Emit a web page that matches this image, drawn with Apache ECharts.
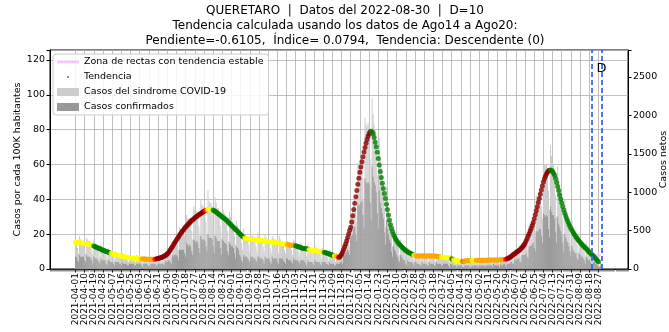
<!DOCTYPE html>
<html><head><meta charset="utf-8">
<script src="https://cdn.jsdelivr.net/npm/echarts@6/dist/echarts.min.js"></script>
<style>html,body{margin:0;padding:0;background:#fff}#c{width:669px;height:332px}</style>
</head><body><div id="c"></div>
<script>
// ---- DATA ----
const startDate = [2021, 3, 1];          // 2021-04-01 (day 0)
const axisFirstDay = -25;                // first category (days from start)
const axisLastDay = 542;                 // last category
const labelStepDays = 9;                 // x tick labels every 9 days
const markerDates = ['2022-08-20', '2022-08-30'];
const markerLabel = 'D';

// Trend (7-day smoothed), per 100K, daily from 2021-04-01
const trendValues = [
15.3,15.3,15.2,15.2,15.1,15.0,14.9,14.9,14.8,14.7,
14.6,14.5,14.4,14.2,14.1,13.9,13.7,13.4,13.2,12.9,
12.6,12.4,12.1,11.9,11.6,11.3,11.1,10.8,10.6,10.3,
10.1,9.9,9.6,9.4,9.2,9.0,8.8,8.6,8.5,8.3,
8.2,8.0,7.9,7.7,7.6,7.4,7.3,7.2,7.1,6.9,
6.8,6.7,6.6,6.5,6.4,6.3,6.3,6.2,6.1,6.1,
6.0,6.0,5.9,5.9,5.8,5.8,5.7,5.7,5.7,5.7,
5.6,5.6,5.6,5.6,5.6,5.6,5.6,5.6,5.6,5.7,
5.9,6.0,6.2,6.4,6.6,6.8,7.1,7.4,7.7,8.0,
8.6,9.3,10.1,11.0,11.9,12.8,13.8,14.8,15.7,16.6,
17.5,18.4,19.3,20.2,21.0,21.8,22.6,23.4,24.1,24.7,
25.4,26.0,26.6,27.2,27.8,28.3,28.8,29.3,29.8,30.2,
30.7,31.1,31.5,31.9,32.3,32.7,33.1,33.4,33.7,33.9,
34.1,34.2,34.2,34.1,34.0,33.8,33.5,33.1,32.7,32.2,
31.8,31.3,30.8,30.4,29.9,29.4,29.0,28.5,28.1,27.5,
26.9,26.3,25.7,25.1,24.5,23.9,23.3,22.7,22.2,21.6,
21.0,20.4,19.8,19.2,18.7,18.2,17.8,17.6,17.4,17.3,
17.2,17.1,17.0,16.9,16.9,16.8,16.8,16.7,16.7,16.6,
16.6,16.5,16.4,16.3,16.2,16.1,16.0,15.9,15.9,15.8,
15.7,15.6,15.5,15.4,15.4,15.3,15.2,15.1,15.0,14.9,
14.8,14.7,14.6,14.5,14.4,14.3,14.2,14.1,14.0,13.9,
13.8,13.7,13.7,13.6,13.6,13.5,13.3,13.1,12.9,12.7,
12.5,12.3,12.1,11.9,11.8,11.7,11.6,11.5,11.3,11.1,
11.0,10.9,10.8,10.7,10.6,10.5,10.4,10.4,10.3,10.2,
10.1,10.0,9.9,9.8,9.6,9.4,9.2,9.0,8.8,8.6,
8.4,8.2,8.0,7.8,7.6,7.4,7.2,7.0,6.8,6.7,
7.4,8.5,9.8,11.2,12.8,14.4,16.2,18.1,20.1,22.2,
24.0,27.0,30.6,34.2,37.8,41.4,45.0,48.6,52.1,55.5,
58.6,61.6,64.5,67.2,69.8,72.2,74.4,76.2,77.7,78.8,
79.1,78.7,77.7,75.5,72.8,70.2,67.0,63.4,59.7,56.0,
52.5,49.2,46.2,43.4,40.4,37.2,34.1,31.0,28.0,25.4,
23.2,21.4,19.8,18.5,17.4,16.4,15.5,14.7,14.0,13.4,
12.8,12.2,11.6,11.1,10.6,10.2,9.8,9.5,9.2,8.9,
8.6,8.2,7.9,7.7,7.6,7.5,7.5,7.5,7.5,7.5,
7.5,7.5,7.5,7.5,7.5,7.5,7.5,7.5,7.5,7.5,
7.5,7.4,7.4,7.4,7.3,7.3,7.2,7.1,7.0,6.9,
6.8,6.7,6.7,6.6,6.5,6.4,6.3,6.2,6.0,5.9,
5.6,5.3,5.1,4.9,4.8,4.7,4.6,4.5,4.5,4.4,
4.4,4.5,4.6,4.7,4.8,4.8,4.8,4.8,4.8,4.9,
4.9,4.9,4.9,5.0,5.0,5.0,5.0,5.0,5.0,5.0,
5.0,5.0,5.0,5.0,5.0,5.1,5.1,5.1,5.1,5.1,
5.1,5.1,5.1,5.2,5.2,5.2,5.2,5.2,5.3,5.3,
5.4,5.5,5.6,5.8,6.0,6.3,6.6,7.0,7.4,8.0,
8.4,8.8,9.3,9.7,10.2,10.6,11.1,11.7,12.3,13.0,
13.8,14.8,16.0,17.4,18.9,20.3,21.8,23.3,24.9,26.7,
28.8,31.1,33.4,35.7,38.1,40.5,42.9,45.3,47.7,49.9,
51.8,53.3,54.5,55.5,56.2,56.7,56.8,56.5,55.9,55.0,
53.8,52.0,49.7,47.3,45.0,42.5,40.2,38.0,35.9,33.9,
32.0,30.3,28.7,27.2,25.8,24.5,23.3,22.2,21.2,20.2,
19.3,18.4,17.6,16.8,16.1,15.4,14.7,14.0,13.4,12.8,
12.2,11.6,11.0,10.4,9.8,9.2,8.6,8.0,7.4,6.8,
6.1,5.4,4.8,4.2
];

// Trend classification: [start day, class]  Y=estable, G=descendente, O, R, D=ascendente
const trendSegments = [
[0,'Y'],[18,'G'],[35,'Y'],[65,'O'],[78,'R'],[80,'D'],[127,'R'],[129,'O'],[130,'Y'],[135,'G'],
[166,'Y'],[208,'O'],[216,'G'],[229,'Y'],[244,'G'],[254,'Y'],[256,'O'],[258,'R'],[259,'D'],[290,'G'],
[332,'Y'],[334,'O'],[359,'Y'],[369,'G'],[371,'Y'],[380,'R'],[381,'O'],[389,'Y'],[393,'O'],[422,'R'],
[424,'D'],[466,'G']
];

// Casos del sindrome COVID-19 (per 100K), daily from 2021-04-01
const sindromeValues = [
17,16,12,9,19,17,16, 16,16,12,9,18,17,16, 16,15,11,8,17,15,14, 14,13,10,7,14,13,12,
12,11,8,6,12,11,10, 10,9,7,5,10,9,9, 9,8,6,4,9,8,8, 8,7,5,4,8,7,7,
7,7,5,4,8,7,6, 6,6,5,3,7,7,6, 6,6,4,3,7,6,6, 6,6,5,4,8,7,7,
7,7,6,4,10,9,9, 10,11,9,7,16,16,16, 17,17,14,11,24,23,23, 24,24,19,14,31,29,29,
29,29,22,17,36,34,33, 33,32,25,19,40,37,36, 36,35,27,20,45,39,38, 38,36,27,20,41,38,35,
35,33,25,18,37,34,32, 31,30,22,16,33,30,28, 27,25,19,14,28,25,23, 22,21,15,11,23,20,19,
19,18,14,10,21,19,19, 18,18,13,10,21,19,18, 18,17,13,10,20,18,17, 17,16,12,9,19,18,17,
17,16,12,9,19,17,16, 16,15,11,9,18,16,15, 15,14,11,8,17,16,15, 14,14,10,8,15,14,13,
13,12,9,7,14,13,12, 12,11,9,6,13,12,11, 11,11,8,6,12,11,11, 10,10,7,5,11,10,9,
9,8,6,4,9,8,7, 7,8,7,6,14,15,16, 18,19,16,13,30,31,34, 38,40,33,27,61,60,61,
64,65,52,40,87,83,82, 84,82,63,47,98,89,83, 80,74,54,38,75,64,58, 54,49,35,24,47,39,34,
31,27,19,13,25,21,19, 18,16,12,8,17,15,13, 13,12,8,6,12,11,10, 10,9,7,5,10,9,8,
8,8,6,5,9,9,8, 8,8,6,4,9,9,8, 8,8,6,4,9,8,8, 8,7,6,4,8,8,7,
7,7,5,4,8,7,6, 6,5,4,3,6,5,5, 5,5,4,3,6,5,5, 5,5,4,3,6,6,5,
5,5,4,3,6,6,6, 6,5,4,3,6,6,6, 6,5,4,3,6,6,6, 6,5,4,3,7,6,6,
6,6,4,3,8,7,7, 8,8,6,5,11,11,11, 11,11,9,7,15,15,15, 16,17,14,11,25,25,26,
27,28,23,19,42,41,42, 45,45,36,29,62,60,59, 60,58,45,34,71,65,61, 60,56,42,30,59,52,47,
44,40,29,20,40,35,32, 30,27,20,14,28,24,22, 21,19,14,10,20,18,16, 15,14,10,7,15,13,11,
11,10,7,5,9,8,7, 6,5,3,2,4,3
];

// Casos confirmados (per 100K), daily from 2021-04-01
const confirmadosValues = [
7,7,5,4,8,7,7, 7,7,5,4,8,7,7, 7,6,5,3,7,6,6, 6,5,4,3,6,5,5,
5,5,3,2,5,5,4, 4,4,3,2,4,4,4, 4,3,3,2,4,3,3, 3,3,2,2,3,3,3,
3,3,2,2,3,3,3, 3,3,2,1,3,3,3, 3,2,2,1,3,3,3, 3,3,2,2,3,3,3,
3,3,3,2,5,4,4, 5,5,4,3,8,7,8, 8,8,7,5,11,11,11, 11,11,9,7,15,14,13,
14,13,10,8,17,16,15, 16,15,12,9,19,17,17, 17,16,13,10,20,18,18, 18,17,13,9,19,18,16,
16,16,12,8,17,16,15, 15,14,10,8,15,14,13, 13,12,9,6,13,12,11, 8,7,5,4,8,7,7,
7,6,5,4,7,7,7, 6,6,5,4,7,7,6, 6,6,5,3,7,6,6, 6,6,4,3,7,6,6,
6,6,4,3,6,6,6, 6,5,4,3,6,6,5, 5,5,4,3,6,5,5, 5,5,4,3,5,5,5,
5,4,3,2,5,4,4, 4,4,3,2,5,4,4, 4,4,3,2,4,4,4, 4,3,3,2,4,3,3,
3,3,2,2,3,3,3, 3,4,4,3,8,8,9, 10,11,10,8,18,19,20, 23,24,20,16,37,36,37,
38,39,31,24,52,50,49, 50,49,38,28,59,53,50, 48,44,32,23,45,38,35, 32,29,21,14,28,23,20,
17,15,10,7,13,11,10, 8,7,5,4,8,7,6, 5,5,3,2,5,4,4, 4,4,3,2,4,4,3,
3,3,2,2,4,3,3, 3,3,2,2,4,3,3, 3,3,2,2,4,3,3, 3,3,2,2,3,3,3,
3,3,2,1,3,3,2, 2,2,2,1,2,2,2, 2,2,1,1,2,2,2, 2,2,1,1,2,2,2,
2,2,2,1,2,2,2, 2,2,2,1,2,2,2, 2,2,2,1,3,2,2, 2,2,2,1,3,2,2,
3,3,2,1,3,3,3, 4,4,3,3,6,5,5, 6,6,4,4,8,8,8, 8,9,7,6,13,13,13,
14,15,12,10,22,21,22, 23,23,19,15,32,31,30, 31,30,23,18,36,33,31, 31,29,21,15,30,26,24,
22,20,15,10,20,18,16, 15,13,10,7,13,11,10, 9,9,6,5,9,8,7, 7,6,5,3,7,6,5,
5,4,3,2,4,4,3, 3,2,1,1,2,1
];

// Zona de rectas con tendencia estable (short segment at the end)
const estableDates = ['2022-08-22', '2022-08-29'];
const estableValues = [8.0, 7.7];

const leftAxisMax = 125.7, leftTickStep = 20;
const rightAxisMax = 2852, rightTickStep = 500;

// ---- BUILD ----
function fmtDate(d) {
  const t = Date.UTC(startDate[0], startDate[1], startDate[2]) + d * 86400000;
  return new Date(t).toISOString().slice(0, 10);
}
const categories = [];
for (let d = axisFirstDay; d <= axisLastDay; d++) categories.push(fmtDate(d));
const dayOf = i => i + axisFirstDay;
const valAt = (arr, i) => { const d = dayOf(i); return (d >= 0 && d < arr.length) ? arr[d] : '-'; };

const sindromeData = categories.map((c, i) => valAt(sindromeValues, i));
const confirmadosData = categories.map((c, i) => valAt(confirmadosValues, i));
const trendData = categories.map((c, i) => valAt(trendValues, i));
const estableData = estableDates.map((d, k) => [d, estableValues[k]]);

const classColor = { Y: '#ffff00', G: '#008000', O: '#ffa500', R: '#ff0000', D: '#8b0000' };
function trendColor(day) {
  let cls = 'Y';
  for (const [s, c] of trendSegments) { if (day >= s) cls = c; }
  return classColor[cls];
}
const isLabelIdx = i => { const d = dayOf(i); return d >= 0 && d % labelStepDays === 0 && d <= 516; };

const FONT = 'DejaVu Sans';
const chart = echarts.init(document.getElementById('c'), null, { renderer: 'canvas' });
chart.setOption({
  animation: false,
  backgroundColor: '#fff',
  title: {
    text: 'QUERETARO  |  Datos del 2022-08-30  |  D=10\nTendencia calculada usando los datos de Ago14 a Ago20:\nPendiente=-0.6105,  Índice= 0.0794,  Tendencia: Descendente (0)',
    left: 345, top: 3, padding: 0, textAlign: 'center',
    textStyle: { fontFamily: FONT, fontSize: 12, fontWeight: 'normal', color: '#000', lineHeight: 15 }
  },
  grid: { left: 50, right: 41, top: 50, bottom: 63, show: true, borderColor: '#000', borderWidth: 1,
    backgroundColor: 'transparent', containLabel: false, outerBoundsMode: 'none' },
  legend: {
    orient: 'vertical', left: 53, top: 54,
    backgroundColor: 'rgba(255,255,255,0.85)', borderColor: '#cccccc', borderWidth: 1, borderRadius: 3,
    padding: [3, 5, 3, 4], itemGap: 5, itemWidth: 22, itemHeight: 8,
    textStyle: { fontFamily: FONT, fontSize: 9.5, color: '#000' },
    data: [
      { name: 'Zona de rectas con tendencia estable', icon: 'path://M0 0M22 8M0 2.6L22 2.6L22 5.4L0 5.4Z', itemStyle: { color: '#f7c8f7', borderWidth: 0 } },
      { name: 'Tendencia', icon: 'path://M0 0M22 8M10 3L12 3L12 5L10 5Z', itemStyle: { color: '#777777', borderWidth: 0 } },
      { name: 'Casos del sindrome COVID-19', icon: 'rect', itemStyle: { color: '#cccccc' } },
      { name: 'Casos confirmados', icon: 'rect', itemStyle: { color: '#999999' } }
    ]
  },
  xAxis: [{
    type: 'category', data: categories, boundaryGap: false,
    axisLine: { show: true, lineStyle: { color: '#000', width: 1 } },
    axisTick: { show: true, interval: (i) => isLabelIdx(i), length: 3.5, lineStyle: { color: '#000' } },
    axisLabel: { show: true, interval: (i) => isLabelIdx(i), rotate: 90, fontFamily: FONT, fontSize: 9, color: '#000', margin: 4 },
    splitLine: { show: true, interval: (i) => isLabelIdx(i), lineStyle: { color: '#b0b0b0', width: 0.8 } }
  }, {
    type: 'category', data: categories, boundaryGap: false, position: 'bottom',
    axisLine: { show: false },
    axisTick: { show: true, interval: 0, length: 2.5, lineStyle: { color: '#444', width: 0.6 } },
    axisLabel: { show: false }, splitLine: { show: false }
  }],
  yAxis: [{
    type: 'value', min: 0, max: leftAxisMax, interval: leftTickStep,
    name: 'Casos por cada 100K habitantes', nameLocation: 'middle', nameGap: 27, nameRotate: 90, nameMoveOverlap: false,
    nameTextStyle: { fontFamily: FONT, fontSize: 9.5, color: '#000' },
    axisLine: { show: true, lineStyle: { color: '#000' } },
    axisTick: { show: true, length: 3.5, lineStyle: { color: '#000' } },
    axisLabel: { fontFamily: FONT, fontSize: 9.5, color: '#000', margin: 5, formatter: v => (v % leftTickStep === 0 ? String(v) : '') },
    splitLine: { show: true, lineStyle: { color: '#b0b0b0', width: 0.8 } }
  }, {
    type: 'value', min: 0, max: rightAxisMax, interval: rightTickStep, position: 'right',
    name: 'Casos netos', nameLocation: 'middle', nameGap: 31, nameRotate: 90, nameMoveOverlap: false,
    nameTextStyle: { fontFamily: FONT, fontSize: 9.5, color: '#000' },
    axisLine: { show: true, lineStyle: { color: '#000' } },
    axisTick: { show: true, length: 3.5, lineStyle: { color: '#000' } },
    axisLabel: { fontFamily: FONT, fontSize: 9.5, color: '#000', margin: 5, formatter: v => (v % rightTickStep === 0 ? String(v) : '') },
    splitLine: { show: false }
  }],
  series: [
    { name: 'Casos del sindrome COVID-19', type: 'bar', data: sindromeData, barWidth: 0.7, barGap: '-100%',
      itemStyle: { color: '#cbcbcb' }, z: 1, silent: true },
    { name: 'Casos confirmados', type: 'bar', data: confirmadosData, barWidth: 0.7, barGap: '-100%',
      itemStyle: { color: '#9a9a9a' }, z: 2, silent: true },
    { name: 'Zona de rectas con tendencia estable', type: 'line', data: estableData, showSymbol: false, symbol: 'none',
      lineStyle: { color: '#f7c8f7', width: 3 }, itemStyle: { color: '#f7c8f7' }, z: 3, silent: true },
    { name: 'Tendencia', type: 'scatter', data: trendData, symbolSize: 5, z: 4, silent: true,
      itemStyle: { color: (p) => trendColor(dayOf(p.dataIndex)) },
      markLine: { symbol: 'none', silent: true, label: { show: false },
        lineStyle: { color: '#3a6be6', width: 1.8, type: [5, 3] },
        data: markerDates.map(d => ({ xAxis: d })) },
      markPoint: { symbol: 'circle', symbolSize: 0, silent: true,
        label: { show: true, formatter: markerLabel, fontFamily: FONT, fontSize: 13, color: '#000', position: 'inside' },
        data: [{ coord: [markerDates[1], 115] }] }
    }
  ]
});
</script>
</body></html>
